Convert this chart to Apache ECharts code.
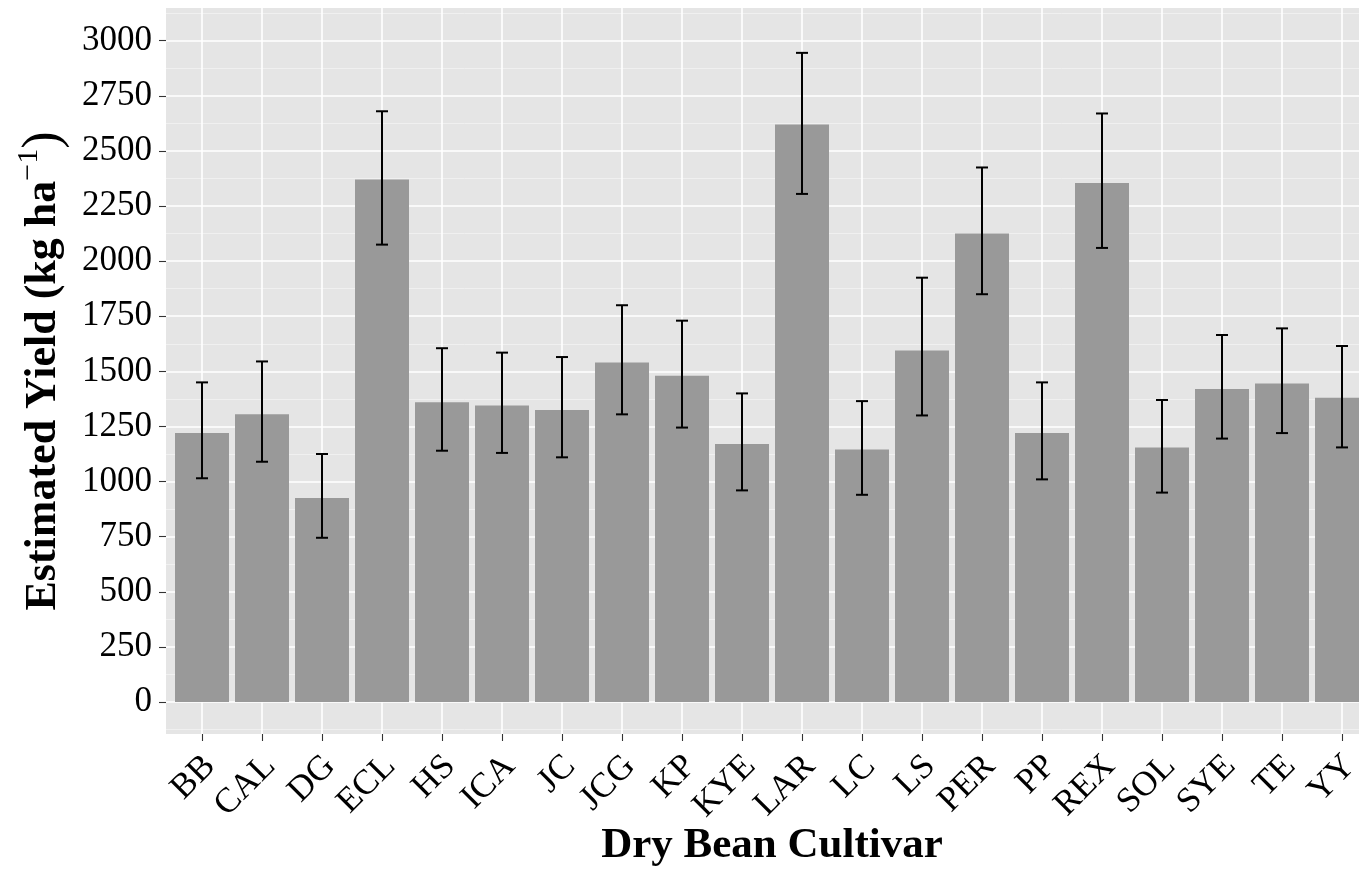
<!DOCTYPE html>
<html>
<head>
<meta charset="utf-8">
<title>Estimated Yield by Dry Bean Cultivar</title>
<script src="https://cdn.jsdelivr.net/npm/echarts@6/dist/echarts.min.js"></script>
<style>
  html, body { margin: 0; padding: 0; background: #fff; }
  #chart { width: 1359px; height: 872px; }
</style>
</head>
<body>
<div id="chart"></div>
<script>
// cultivars and estimated yield (kg/ha) with error bar limits
var cultivars = ['BB', 'CAL', 'DG', 'ECL', 'HS', 'ICA', 'JC', 'JCG', 'KP', 'KYE',
  'LAR', 'LC', 'LS', 'PER', 'PP', 'REX', 'SOL', 'SYE', 'TE', 'YY'];
var yieldMean = [1220, 1305, 925, 2370, 1360, 1345, 1325, 1540, 1480, 1170,
  2620, 1145, 1595, 2125, 1220, 2355, 1155, 1420, 1445, 1380];
var yieldLow = [1015, 1090, 745, 2075, 1140, 1130, 1110, 1305, 1245, 960,
  2305, 940, 1300, 1850, 1010, 2060, 950, 1195, 1220, 1155];
var yieldHigh = [1450, 1545, 1125, 2680, 1605, 1585, 1565, 1800, 1730, 1400,
  2945, 1365, 1925, 2425, 1450, 2670, 1370, 1665, 1695, 1615];
var yTicks = [0, 250, 500, 750, 1000, 1250, 1500, 1750, 2000, 2250, 2500, 2750, 3000];

var serif = '"Liberation Serif", "DejaVu Serif", serif';
var yMin = -145.2, yMax = 3148.5;

var chart = echarts.init(document.getElementById('chart'), null, { renderer: 'canvas' });

var errData = cultivars.map(function (c, i) {
  return [i, yieldLow[i], yieldHigh[i]];
});

var option = {
  backgroundColor: '#ffffff',
  animation: false,
  grid: [
    // panel (grey background)
    { left: 166, right: -19, top: 8, bottom: 138, show: true, backgroundColor: '#E5E5E5', borderWidth: 0, outerBoundsMode: 'none' },
    // discrete x scale: ggplot keeps 0.6 band of padding on each side
    { left: 172, right: -13, top: 8, bottom: 138, outerBoundsMode: 'none' },
    // horizontal grid lines (extended so breaks stay multiples of 250)
    { left: 166, right: -19, top: -14.4, bottom: 114.9, outerBoundsMode: 'none' },
    // vertical grid lines through the category centres
    { left: 202, right: 17, top: 8, bottom: 138, outerBoundsMode: 'none' },
    // rotated tick labels (ggplot anchors them at the top-right corner)
    { left: 180, right: -21, top: 8, bottom: 138, outerBoundsMode: 'none' }
  ],
  xAxis: [
    { gridIndex: 0, type: 'value', show: false },
    {
      gridIndex: 1,
      type: 'category',
      data: cultivars,
      boundaryGap: true,
      axisLine: { show: false, onZero: false },
      axisTick: { show: true, alignWithLabel: true, length: 7, lineStyle: { color: '#333333', width: 1.1 } },
      axisLabel: { show: false },
      splitLine: { show: false },
      name: 'Dry Bean Cultivar',
      nameLocation: 'middle',
      nameGap: 90,
      nameTextStyle: { fontFamily: serif, fontSize: 43, fontWeight: 'bold', color: '#000' }
    },
    { gridIndex: 2, type: 'value', show: false },
    {
      gridIndex: 3,
      type: 'value',
      min: 0,
      max: cultivars.length - 1,
      interval: 1,
      axisLine: { show: false, onZero: false },
      axisTick: { show: false },
      axisLabel: { show: false },
      splitLine: { show: true, lineStyle: { color: '#ffffff', width: 1.6 } }
    },
    {
      gridIndex: 4,
      type: 'category',
      data: cultivars,
      boundaryGap: true,
      axisLine: { show: false, onZero: false },
      axisTick: { show: false },
      axisLabel: { rotate: 45, margin: 27, interval: 0, fontFamily: serif, fontSize: 35, color: '#000' },
      splitLine: { show: false }
    }
  ],
  yAxis: [
    {
      gridIndex: 0,
      type: 'value',
      min: yMin,
      max: yMax,
      axisLine: { show: false },
      axisTick: { show: true, length: 7, customValues: yTicks, lineStyle: { color: '#333333', width: 1.1 } },
      axisLabel: {
        margin: 14, customValues: yTicks, fontFamily: serif, fontSize: 35, color: '#000',
        formatter: function (v) { return String(v); }
      },
      splitLine: { show: false },
      name: '{m|Estimated Yield (kg ha}{s|\u22121}{p|)}',
      nameLocation: 'middle',
      nameRotate: 90,
      nameGap: 92,
      nameTextStyle: {
        rich: {
          m: { fontFamily: serif, fontSize: 44, fontWeight: 'bold', color: '#000', lineHeight: 60, verticalAlign: 'middle' },
          s: { fontFamily: serif, fontSize: 30, color: '#000', lineHeight: 31, verticalAlign: 'top' },
          p: { fontFamily: serif, fontSize: 52, color: '#000', lineHeight: 60, verticalAlign: 'middle' }
        }
      }
    },
    { gridIndex: 1, type: 'value', min: yMin, max: yMax, show: false },
    {
      gridIndex: 2,
      type: 'value',
      min: -250,
      max: 3250,
      interval: 250,
      axisLine: { show: false },
      axisTick: { show: false },
      axisLabel: { show: false },
      splitLine: { show: true, lineStyle: { color: '#ffffff', width: 1.6 } },
      minorTick: { show: false, splitNumber: 2 },
      minorSplitLine: { show: true, lineStyle: { color: '#F2F2F2', width: 0.8 } }
    },
    { gridIndex: 3, type: 'value', min: yMin, max: yMax, show: false },
    { gridIndex: 4, type: 'value', min: yMin, max: yMax, show: false }
  ],
  series: [
    {
      type: 'bar',
      xAxisIndex: 1,
      yAxisIndex: 1,
      data: yieldMean,
      barWidth: '90%',
      itemStyle: { color: '#999999' },
      z: 3
    },
    {
      type: 'custom',
      xAxisIndex: 1,
      yAxisIndex: 1,
      data: errData,
      z: 4,
      renderItem: function (params, api) {
        var i = api.value(0);
        var lo = api.coord([i, api.value(1)]);
        var hi = api.coord([i, api.value(2)]);
        var half = api.size([1, 0])[0] * 0.1;
        var st = { stroke: '#000', lineWidth: 2 };
        return {
          type: 'group',
          children: [
            { type: 'line', shape: { x1: hi[0], y1: hi[1], x2: lo[0], y2: lo[1] }, style: st },
            { type: 'line', shape: { x1: hi[0] - half, y1: hi[1], x2: hi[0] + half, y2: hi[1] }, style: st },
            { type: 'line', shape: { x1: lo[0] - half, y1: lo[1], x2: lo[0] + half, y2: lo[1] }, style: st }
          ]
        };
      }
    }
  ]
};

chart.setOption(option);
</script>
</body>
</html>
